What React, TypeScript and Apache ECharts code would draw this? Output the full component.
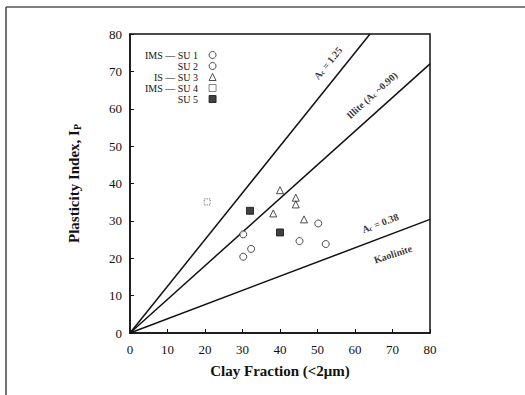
import React, { useEffect, useRef } from "react";
import * as echarts from "echarts";

const xTicks = [0, 10, 20, 30, 40, 50, 60, 70, 80];
const su1: number[][] = [[30.2, 26.4], [32.3, 22.5], [30.2, 20.4]];
const su2: number[][] = [[45.2, 24.6], [50.2, 29.3], [52.2, 23.8]];
const su3: number[][] = [[40, 38.2], [44.2, 36.2], [44.2, 34.4], [38.2, 32], [46.4, 30.4]];
const su4: number[][] = [[20.6, 35.1]];
const su5: number[][] = [[32, 32.7], [40, 26.9]];
const activityLines = [
  { name: "Ac1.25", pts: [[0, 0], [64, 80]] },
  { name: "Ac0.90", pts: [[0, 0], [80, 72]] },
  { name: "Ac0.38", pts: [[0, 0], [80, 30.4]] },
];
const annotations = [
  { pos: [52.8, 72.2], rot: 51, text: "{b|A}{s|c}{b| = 1.25}" },
  { pos: [64.5, 63.6], rot: 42, text: "{b|Illite (A}{s|c}{b| ~0.90)}" },
  { pos: [66.7, 29.4], rot: 21, text: "{b|A}{s|c}{b| = 0.38}" },
  { pos: [70.1, 21.1], rot: 18, text: "{b|Kaolinite}" },
];
const legendNames = ["IMS — SU 1", "SU 2", "IS — SU 3", "IMS — SU 4", "SU 5"];

export default function App() {
  const ref = useRef<HTMLDivElement>(null);
  useEffect(() => {
    if (!ref.current) return;
    const chart = echarts.init(ref.current, null, { renderer: "svg" });
    const font = "'Liberation Serif', 'Times New Roman', serif";
    const rich = {
      b: { fontFamily: font, fontWeight: "bold", fontSize: 10, color: "#000" },
      s: { fontFamily: font, fontWeight: "bold", fontSize: 7, color: "#000", verticalAlign: "bottom", padding: [4, 0, 0, 0] },
    };
    const scatterCommon = { type: "scatter", z: 5 };
    chart.setOption({
      animation: false,
      backgroundColor: "#fff",
      textStyle: { fontFamily: font },
      grid: { left: 130, top: 34, width: 300, height: 299, show: true, borderColor: "#111", borderWidth: 1.5, backgroundColor: "transparent" },
      legend: {
        data: legendNames,
        orient: "vertical",
        left: 140,
        top: 45,
        itemGap: 1,
        itemWidth: 7,
        itemHeight: 7,
        align: "right",
        formatter: (n: string) => `{t|${n}}`,
        itemStyle: { borderWidth: 1 },
        textStyle: {
          rich: { t: { width: 66, align: "right", fontFamily: font, fontSize: 10, color: "#111", padding: [0, 6, 0, 0] } },
        },
      },
      xAxis: {
        type: "value", min: 0, max: 80, interval: 10,
        name: "Clay Fraction (<2μm)", nameLocation: "middle", nameGap: 30,
        nameTextStyle: { fontFamily: font, fontWeight: "bold", fontSize: 15, color: "#111" },
        axisLine: { lineStyle: { color: "#111", width: 1.5 } },
        axisTick: { inside: true, length: 4, lineStyle: { color: "#111" } },
        axisLabel: { fontFamily: font, fontSize: 13, color: "#111", margin: 10, customValues: xTicks },
        splitLine: { show: false },
      },
      yAxis: {
        type: "value", min: 0, max: 80, interval: 10,
        name: "{b|Plasticity Index, I}{s|P}", nameLocation: "middle", nameGap: 48,
        nameTextStyle: {
          rich: {
            b: { fontFamily: font, fontWeight: "bold", fontSize: 15, color: "#111" },
            s: { fontFamily: font, fontWeight: "bold", fontSize: 10, color: "#111", verticalAlign: "bottom", padding: [6, 0, 0, 0] },
          },
        },
        axisLine: { lineStyle: { color: "#111", width: 1.5 } },
        axisTick: { inside: true, length: 4, lineStyle: { color: "#111" } },
        axisLabel: { fontFamily: font, fontSize: 13, color: "#111", margin: 8 },
        splitLine: { show: false },
      },
      series: [
        ...activityLines.map((l) => ({
          type: "line", name: l.name, data: l.pts, symbol: "none",
          lineStyle: { color: "#111", width: 1.5 }, z: 2,
        })),
        { ...scatterCommon, name: legendNames[0], data: su1, symbol: "circle", symbolSize: 7,
          itemStyle: { color: "#fff", borderColor: "#222", borderWidth: 1 } },
        { ...scatterCommon, name: legendNames[1], data: su2, symbol: "circle", symbolSize: 7,
          itemStyle: { color: "#fff", borderColor: "#222", borderWidth: 1 } },
        { ...scatterCommon, name: legendNames[2], data: su3, symbol: "triangle", symbolSize: 7,
          itemStyle: { color: "#fff", borderColor: "#222", borderWidth: 1 } },
        { ...scatterCommon, name: legendNames[3], data: su4, symbol: "rect", symbolSize: 6,
          itemStyle: { color: "#fff", borderColor: "#666", borderWidth: 1.2, borderType: "dotted" } },
        { ...scatterCommon, name: legendNames[4], data: su5, symbol: "rect", symbolSize: 7,
          itemStyle: { color: "#111", borderColor: "#111", borderWidth: 1 } },
        {
          type: "scatter", name: "annotations", symbolSize: 0, z: 6, silent: true,
          data: annotations.map((a) => ({
            value: a.pos,
            label: { show: true, position: "inside", rotate: a.rot, formatter: a.text, rich },
          })),
        },
      ],
      graphic: [
        { type: "line", shape: { x1: 6, y1: 7, x2: 525, y2: 7 }, style: { stroke: "#555", lineWidth: 1.5 } },
        { type: "line", shape: { x1: 6, y1: 7, x2: 6, y2: 395 }, style: { stroke: "#444", lineWidth: 1.5 } },
      ],
    });
    return () => chart.dispose();
  }, []);
  return <div ref={ref} style={{ width: 525, height: 395, position: "absolute", left: 0, top: 0 }} />;
}
